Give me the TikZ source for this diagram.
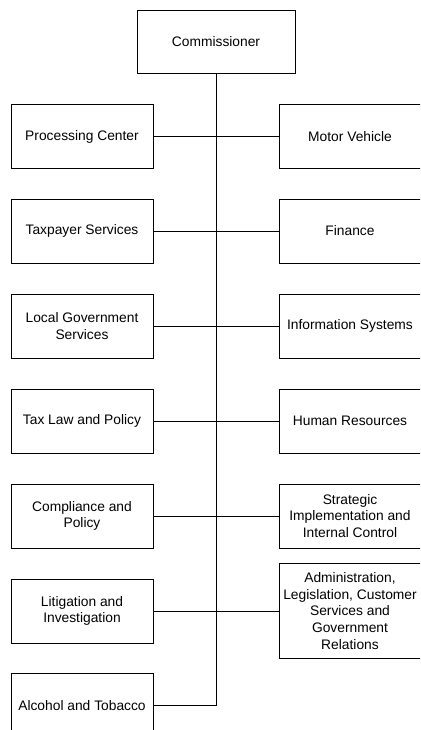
\documentclass[tikz,border=0pt]{standalone}
\usepackage{fontspec}
\setmainfont{Liberation Sans}
\begin{document}
\begin{tikzpicture}[x=1pt,y=-1pt,
  box/.style={draw,line width=0.9pt,fill=white,align=center,inner sep=0pt,
    minimum width=142pt,minimum height=64pt,font=\fontsize{13.8}{16.7}\selectfont},
  link/.style={line width=0.9pt}]
\useasboundingbox (0,0) rectangle (420,730);
\clip (0,0) rectangle (420,730);
\fill[white] (0,0) rectangle (420,730);
\node[box,minimum width=158pt,minimum height=63pt] (comm) at (216,41.5) {Commissioner};
\node[box] (l1) at (82,136.5) {Processing Center};
\node[box] (r1) at (350,136.5) {Motor Vehicle};
\node[box] (l2) at (82,231) {Taxpayer Services};
\node[box] (r2) at (350,231) {Finance};
\node[box] (l3) at (82,326) {Local Government\\Services};
\node[box] (r3) at (350,326) {Information Systems};
\node[box] (l4) at (82,421) {Tax Law and Policy};
\node[box] (r4) at (350,421) {Human Resources};
\node[box] (l5) at (82,516) {Compliance and\\Policy};
\node[box] (r5) at (350,516) {Strategic\\Implementation and\\Internal Control};
\node[box] (l6) at (82,611) {Litigation and\\Investigation};
\node[box,minimum height=95pt] (r6) at (350,611) {Administration,\\Legislation, Customer\\Services and\\Government\\Relations};
\node[box] (l7) at (82,705.5) {Alcohol and Tobacco};
\draw[link] (comm.south) |- (l7.east);
\foreach \i in {1,...,6}{\draw[link] (l\i.east) -- (r\i.west);}
\end{tikzpicture}
\end{document}
